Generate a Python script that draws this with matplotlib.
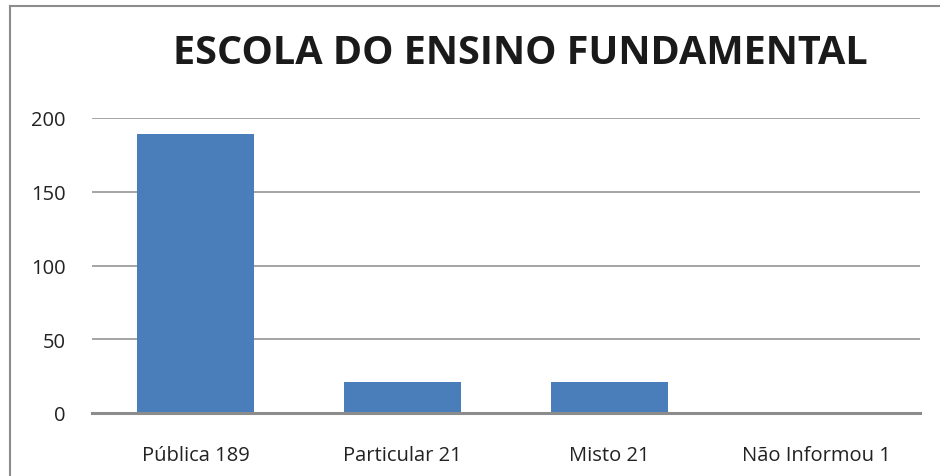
import matplotlib
matplotlib.use("Agg")
import matplotlib.pyplot as plt
from matplotlib.lines import Line2D

categories = ["Pública 189", "Particular 21", "Misto 21", "Não Informou 1"]
values = [189, 21, 21, 1]
yticks = [0, 50, 100, 150, 200]

plt.rcParams["font.family"] = ["Open Sans", "DejaVu Sans"]

fig = plt.figure(figsize=(9.4, 4.77), dpi=100)
ax = fig.add_axes([92 / 940, 1 - 414 / 477, (920 - 92) / 940, (414 - 119) / 477])

ax.bar(range(len(categories)), values, width=0.57, color="#4a7ebb", zorder=3)

ax.set_xlim(-0.5, len(categories) - 0.5)
ax.set_ylim(0, 200)
ax.set_yticks(yticks)
ax.set_xticks(range(len(categories)))
ax.set_xticklabels(categories, fontsize=14.5, color="#222222")
ax.tick_params(axis="y", labelsize=14.5, colors="#222222", length=0, pad=19)
ax.tick_params(axis="x", length=0, pad=23)
ax.yaxis.grid(True, color="#8c8c8c", linewidth=1.1, zorder=0)
for s in ["top", "right", "left"]:
    ax.spines[s].set_visible(False)
ax.spines["bottom"].set_color("#8c8c8c")
ax.spines["bottom"].set_linewidth(2.2)
ax.spines["bottom"].set_zorder(4)

fig.text(520 / 940, 1 - 53 / 477, "ESCOLA DO ENSINO FUNDAMENTAL",
         ha="center", va="center", fontsize=28.5, fontweight="bold", color="#1a1a1a")

# outer chart frame (left and top edges visible)
fig.add_artist(Line2D([9.5 / 940, 9.5 / 940], [0, 1 - 6.5 / 477],
                      transform=fig.transFigure, color="#8c8c8c", linewidth=1.5))
fig.add_artist(Line2D([9.5 / 940, 1], [1 - 6.5 / 477, 1 - 6.5 / 477],
                      transform=fig.transFigure, color="#8c8c8c", linewidth=1.5))

fig.savefig("out.png", dpi=100)
